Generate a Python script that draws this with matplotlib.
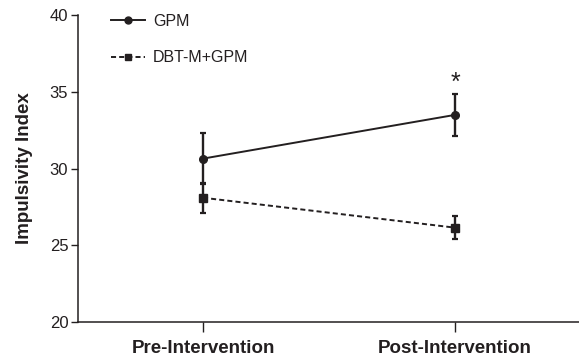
import matplotlib
matplotlib.use("Agg")
from matplotlib import pyplot as plt
from matplotlib.lines import Line2D

# data
groups = ['Pre-Intervention', 'Post-Intervention']
gpm_mean = [30.65, 33.5]
gpm_err = [1.67, 1.39]
dbt_mean = [28.1, 26.15]
dbt_err = [0.98, 0.77]

ink = '#231f20'
plt.rcParams['font.family'] = ['Liberation Sans', 'DejaVu Sans']

fig = plt.figure(figsize=(5.79, 3.61), dpi=100)
ax = fig.add_axes([0.1347, 0.108, 0.8653, 0.850])

x = list(range(len(groups)))

ax.errorbar(x, gpm_mean, yerr=gpm_err, color=ink, marker='o', markersize=5.5,
            linewidth=1.4, elinewidth=1.7, capsize=2.5, capthick=1.6, zorder=3)
ax.errorbar(x, dbt_mean, yerr=dbt_err, color=ink, marker='s', markersize=5.5,
            linewidth=1.4, dashes=(2.6, 1.6), elinewidth=1.7, capsize=2.5, capthick=1.6,
            zorder=3)

# significance mark
ax.text(1, gpm_mean[1] + gpm_err[1] - 0.1, '*', ha='center', va='bottom',
        fontsize=18, color=ink)

ax.set_xlim(-0.496, 1.492)
ax.set_ylim(20, 40)
ax.set_yticks([20, 25, 30, 35, 40])
ax.set_xticks(x)
ax.set_xticklabels(groups, fontsize=13.5, fontweight='bold', color=ink)
ax.set_ylabel('Impulsivity Index', fontsize=13.5, fontweight='bold', color=ink, labelpad=12)

for side in ['top', 'right']:
    ax.spines[side].set_visible(False)
for side in ['left', 'bottom']:
    ax.spines[side].set_linewidth(1.1)
    ax.spines[side].set_color(ink)

ax.tick_params(axis='y', length=5, width=1, labelsize=12, colors=ink, pad=2)
ax.tick_params(axis='x', length=7, width=1, colors=ink, pad=6)

# legend handles without the error bars
handles = [
    Line2D([], [], color=ink, marker='o', markersize=5, linewidth=1.4),
    Line2D([], [], color=ink, marker='s', markersize=5, linewidth=1.4, dashes=(2.6, 1.6)),
]
leg = ax.legend(handles, ['GPM', 'DBT-M+GPM'], loc='upper left',
                bbox_to_anchor=(0.066, 1.005), frameon=False,
                fontsize=11.5, handlelength=2.13, handletextpad=0.5,
                labelspacing=1.35, borderpad=0, borderaxespad=0)
for t in leg.get_texts():
    t.set_color(ink)

plt.savefig('out.png', dpi=100)
plt.close()
